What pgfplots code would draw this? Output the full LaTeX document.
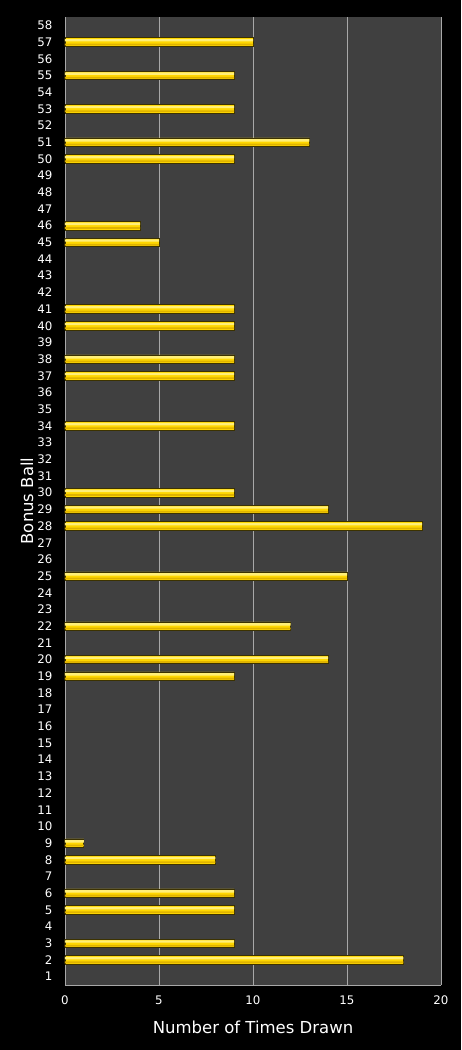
\documentclass[border=0pt]{standalone}
\usepackage{pgfplots}
\pgfplotsset{compat=1.18}
\usepackage{fontspec}
\setmainfont{DejaVu Sans}
\definecolor{plotbg}{HTML}{404040}
\definecolor{gridc}{HTML}{A8A8A8}
\definecolor{goldtop}{HTML}{FFEF78}
\definecolor{goldmid}{HTML}{FFD700}
\definecolor{goldbot}{HTML}{E0B400}
\definecolor{barline}{HTML}{3C3200}
\pgfplotstableread{
val ball
10 57
9 55
9 53
13 51
9 50
4 46
5 45
9 41
9 40
9 38
9 37
9 34
9 30
14 29
19 28
15 25
12 22
14 20
9 19
1 9
8 8
9 6
9 5
9 3
18 2
}\balls
\begin{document}
\begin{tikzpicture}
\fill[black] (-65pt,-65pt) rectangle (396pt,985pt);
\begin{axis}[
at={(0,0)}, anchor=south west,
scale only axis,
width=376pt, height=968pt,
xmin=0, xmax=20,
ymin=0.5, ymax=58.5,
xtick={0,5,10,15,20},
ytick={1,...,58},
xmajorgrids, grid style={gridc, line width=0.6pt},
axis background/.style={fill=plotbg},
axis line style={gridc, line width=0.6pt},
axis x line*=bottom, axis y line*=left,
major tick length=0pt,
tick label style={white, font=\fontsize{11.8}{13}\selectfont},
/pgf/number format/assume math mode=true,
xticklabel style={yshift=-7pt},
yticklabel style={xshift=-9pt},
xlabel={Number of Times Drawn},
ylabel={Bonus Ball},
xlabel style={white, font=\fontsize{16.5}{18}\selectfont,
  at={(axis description cs:0.5,-0.0434)}, anchor=center},
ylabel style={white, font=\fontsize{16.5}{18}\selectfont,
  at={(axis description cs:-0.101,0.5)}, anchor=center},
]
\addplot[xbar, bar width=8.5pt, bar shift=0pt, draw=barline, line width=0.7pt,
  fill=goldmid] table[x=val, y=ball] {\balls};
\addplot[xbar, bar width=2.4pt, bar shift=1.8pt, draw=none,
  fill=goldtop] table[x=val, y=ball] {\balls};
\addplot[xbar, bar width=1.8pt, bar shift=-2.4pt, draw=none,
  fill=goldbot] table[x=val, y=ball] {\balls};
\end{axis}
\end{tikzpicture}
\end{document}
